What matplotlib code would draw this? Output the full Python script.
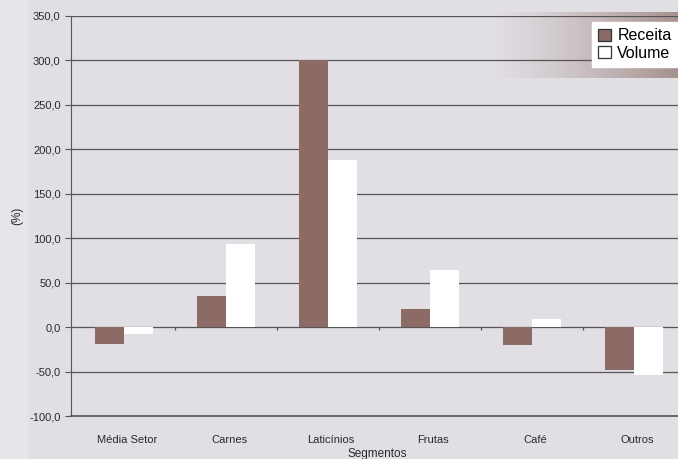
import numpy as np
import matplotlib.pyplot as plt

# segmentos e variacao (%)
categorias = ['Média Setor', 'Carnes', 'Laticínios', 'Frutas', 'Café', 'Outros']
receita = [-19, 35, 300, 20, -20, -48]
volume = [-8, 94, 188, 64, 9, -54]
yticks = [-100, -50, 0, 50, 100, 150, 200, 250, 300, 350]

plt.rcParams['font.family'] = ['Liberation Sans', 'DejaVu Sans']

fig = plt.figure(figsize=(6.78, 4.59), dpi=100)
fig.patch.set_facecolor('#e1dee4')

# faixa marrom em degrade atras da legenda
bg = fig.add_axes([0, 0, 1, 1], zorder=-1)
bg.set_xlim(0, 678)
bg.set_ylim(459, 0)
bg.axis('off')
grad = np.linspace(0, 1, 200)[None, :] ** 1.3
bg.imshow(grad, extent=[490, 678, 78, 12], cmap=plt.matplotlib.colors.LinearSegmentedColormap.from_list(
    'g', ['#e1dee4', '#a08985']), aspect='auto', alpha=0.9)
bg.add_patch(plt.Rectangle((0, 0), 28, 459, color='#e7e5ea', lw=0))

# eixo do grafico (cortado na direita)
ax = fig.add_axes([71 / 678, 1 - 416 / 459, 612 / 678, 400 / 459])
ax.set_facecolor('none')

x = np.arange(len(categorias))
w = 0.285
ax.bar(x - w / 2, receita, w, color='#8c6b66', label='Receita', zorder=3)
ax.bar(x + w / 2, volume, w, color='white', label='Volume', zorder=3)

ax.set_xlim(-0.52, 5.48)
ax.set_ylim(-100, 350)
ax.set_yticks(yticks)
ax.set_yticklabels([f'{v:.1f}'.replace('.', ',') for v in yticks], fontsize=8, color='#2a2a2a')
ax.grid(axis='y', color='#555555', lw=0.9, zorder=1)
ax.axhline(-100, color='#555555', lw=1.2, clip_on=False, zorder=1)
ax.set_xticks(x + 0.03)
ax.set_xticklabels(categorias, fontsize=8, color='#2a2a2a')
ax.tick_params(axis='x', length=0, pad=14)
ax.tick_params(axis='y', length=4, color='#555555')

for s in ['top', 'right', 'bottom']:
    ax.spines[s].set_visible(False)
ax.spines['left'].set_color('#555555')

# marcas entre categorias sobre o zero
ax.vlines(x[:-1] + 0.5, -3, 0, color='#555555', lw=0.9, zorder=2)

ax.set_ylabel('(%)', fontsize=8.5, color='#2a2a2a', labelpad=4)
ax.set_xlabel('Segmentos', fontsize=8.5, color='#2a2a2a', labelpad=2)

leg = fig.legend(loc='upper right', bbox_to_anchor=(1.0, 1 - 22 / 459), fontsize=11.5,
                 frameon=True, fancybox=False, edgecolor='white', facecolor='white',
                 handlelength=0.8, handleheight=0.8, handletextpad=0.4, borderpad=0.4,
                 labelspacing=0.15, borderaxespad=0.0)
leg.get_frame().set_alpha(1)
for h in leg.legend_handles:
    h.set_edgecolor('#333333')
    h.set_linewidth(0.9)

fig.savefig('out.png', dpi=100, facecolor=fig.get_facecolor())
